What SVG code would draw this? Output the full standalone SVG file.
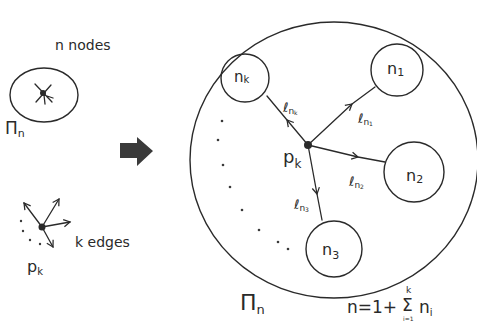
<svg xmlns="http://www.w3.org/2000/svg" width="477" height="322" viewBox="0 0 477 322">
<defs>
<style>
.ln{fill:none;stroke:#2a2a2a;stroke-width:1.3;stroke-linecap:round;stroke-linejoin:round}
.nd{fill:none;stroke:#2a2a2a;stroke-width:1.4}
.tx{font-family:"DejaVu Sans","Liberation Sans",sans-serif;fill:#2a2a2a}
.dot{fill:#2a2a2a}
.sm{fill:#3a3a3a}
</style>
<marker id="ah" viewBox="0 0 10 10" refX="8" refY="5" markerWidth="9" markerHeight="9" markerUnits="userSpaceOnUse" orient="auto">
<path d="M1,1 L8,5 L1,9" fill="none" stroke="#2a2a2a" stroke-width="1.4"/>
</marker>
</defs>
<rect width="477" height="322" fill="#ffffff"/>

<g id="pi-n-small">
<ellipse class="nd" cx="44" cy="95" rx="34" ry="27"/>
<path class="ln" d="M35,84 L52,102 M51,85 L36,102 M44,95 L53,98 M44,95 L45,104"/>
<circle class="dot" cx="43" cy="93" r="3"/>
<text class="tx" x="55" y="50" font-size="14">n nodes</text>
<text class="tx" x="5" y="134" font-size="17">Π<tspan font-size="11" dy="3">n</tspan></text>
</g>

<g id="pk-small">
<path class="ln" d="M42,227 L24,203" marker-end="url(#ah)"/>
<path class="ln" d="M42,227 L59,199" marker-end="url(#ah)"/>
<path class="ln" d="M42,227 L70,222" marker-end="url(#ah)"/>
<path class="ln" d="M42,227 L53,247" marker-end="url(#ah)"/>
<circle class="dot" cx="42" cy="227" r="3.5"/>
<circle class="sm" cx="21" cy="221" r="1.2"/>
<circle class="sm" cx="23" cy="231" r="1.2"/>
<circle class="sm" cx="30" cy="240" r="1.2"/>
<circle class="sm" cx="40" cy="244" r="1.2"/>
<text class="tx" x="75" y="247" font-size="14">k edges</text>
<text class="tx" x="27" y="272" font-size="16">p<tspan font-size="10" dy="3">k</tspan></text>
</g>

<g id="big-arrow">
<path d="M120,143 L137,143 L137,137 L153,151 L137,166 L137,158 L120,158 Z" fill="#3a3a3a"/>
</g>

<g id="pi-n-big">
<ellipse class="nd" cx="334" cy="160" rx="144" ry="138" stroke-width="1"/>
<text class="tx" x="240" y="310" font-size="22">Π<tspan font-size="13" dy="4">n</tspan></text>
<text class="tx" x="347" y="313" font-size="17">n=1+</text>
<text class="tx" x="402" y="311" font-size="17">Σ</text>
<text class="tx" x="406" y="293" font-size="9">k</text>
<text class="tx" x="403" y="321" font-size="6">i=1</text>
<text class="tx" x="419" y="313" font-size="17">n<tspan font-size="10" dy="3">i</tspan></text>
<circle class="sm" cx="222" cy="121" r="1.3"/>
<circle class="sm" cx="218" cy="140" r="1.3"/>
<circle class="sm" cx="223" cy="165" r="1.3"/>
<circle class="sm" cx="230" cy="187" r="1.3"/>
<circle class="sm" cx="242" cy="210" r="1.3"/>
<circle class="sm" cx="259" cy="230" r="1.3"/>
<circle class="sm" cx="278" cy="242" r="1.3"/>
<circle class="sm" cx="288" cy="249" r="1.3"/>
</g>

<g id="connectors">
<path class="ln" d="M308,145 L287,120 L267,96" marker-mid="url(#ah)"/>
<path class="ln" d="M308,145 L352,104 L375,87" marker-mid="url(#ah)"/>
<path class="ln" d="M308,145 L358,157 L385,162" marker-mid="url(#ah)"/>
<path class="ln" d="M308,145 L317,194 L322,220" marker-mid="url(#ah)"/>
<text class="tx" x="283" y="112" font-size="13">ℓ<tspan font-size="9" dy="2">n</tspan><tspan font-size="6" dy="1">k</tspan></text>
<text class="tx" x="358" y="123" font-size="13">ℓ<tspan font-size="9" dy="2">n</tspan><tspan font-size="6" dy="1">1</tspan></text>
<text class="tx" x="349" y="186" font-size="13">ℓ<tspan font-size="9" dy="2">n</tspan><tspan font-size="6" dy="1">2</tspan></text>
<text class="tx" x="294" y="209" font-size="13">ℓ<tspan font-size="9" dy="2">n</tspan><tspan font-size="6" dy="1">3</tspan></text>
</g>

<g id="node-pk">
<circle class="dot" cx="308" cy="145" r="4"/>
<text class="tx" x="283" y="163" font-size="18">p<tspan font-size="12" dy="5">k</tspan></text>
</g>
<g id="node-nk">
<circle class="nd" cx="245" cy="78" r="24"/>
<text class="tx" x="234" y="82" font-size="15">n<tspan font-size="10" dy="1">k</tspan></text>
</g>
<g id="node-n1">
<circle class="nd" cx="397" cy="70" r="26"/>
<text class="tx" x="387" y="74" font-size="16">n<tspan font-size="11" dy="2">1</tspan></text>
</g>
<g id="node-n2">
<circle class="nd" cx="414" cy="172" r="30"/>
<text class="tx" x="406" y="181" font-size="16">n<tspan font-size="11" dy="2">2</tspan></text>
</g>
<g id="node-n3">
<circle class="nd" cx="334" cy="249" r="28"/>
<text class="tx" x="322" y="255" font-size="16">n<tspan font-size="11" dy="4">3</tspan></text>
</g>
</svg>
